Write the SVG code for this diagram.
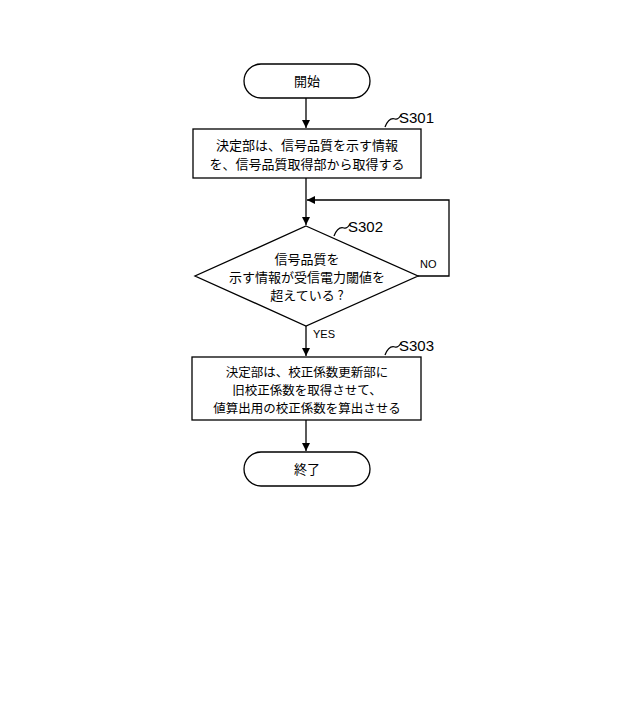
<svg xmlns="http://www.w3.org/2000/svg" width="640" height="722" viewBox="0 0 640 722">
<style>
.s{fill:#fff;stroke:#000;stroke-width:1.3}
.l{fill:none;stroke:#000;stroke-width:1.3}
text{font-family:"Noto Sans CJK JP","Liberation Sans",sans-serif;font-size:13px;text-anchor:middle;fill:#000}
.t{font-size:12.5px}
.lb{font-family:"Liberation Sans",sans-serif;font-size:15px;text-anchor:start}
.sm{font-family:"Liberation Sans",sans-serif;font-size:11px;text-anchor:start}
</style>
<defs><marker id="a" markerWidth="8" markerHeight="10" refX="8" refY="5" orient="auto" markerUnits="userSpaceOnUse"><path d="M0,1 L8,5 L0,9 z" fill="#000"/></marker></defs>
<rect width="640" height="722" fill="#fff"/>
<g id="connectors">
<line class="l" x1="306" y1="98" x2="306" y2="128" marker-end="url(#a)"/>
<line class="l" x1="306" y1="178" x2="306" y2="225" marker-end="url(#a)"/>
<polyline class="l" points="418,276 449,276 449,200 307,200" marker-end="url(#a)"/>
<line class="l" x1="306" y1="326" x2="306" y2="356" marker-end="url(#a)"/>
<line class="l" x1="306" y1="420" x2="306" y2="451" marker-end="url(#a)"/>
<path class="l" d="M385,127 q4,-10 10,-8 q3,1 6,-4"/>
<path class="l" d="M334,236 q4,-10 10,-8 q3,1 6,-4"/>
<path class="l" d="M385,355 q4,-10 10,-8 q3,1 6,-4"/>
<text class="sm" x="420" y="268">NO</text>
<text class="sm" x="313" y="338">YES</text>
</g>
<g id="start"><rect class="s" x="244" y="64" width="126" height="34" rx="17"/><text x="307" y="86">開始</text></g>
<g id="S301"><rect class="s" x="193" y="129" width="228" height="49"/><text x="307" y="150">決定部は、信号品質を示す情報</text><text x="307" y="169">を、信号品質取得部から取得する</text><text class="lb" x="399" y="123">S301</text></g>
<g id="S302"><polygon class="s" points="306,226 418,276 306,326 195,276"/><text x="307" y="264">信号品質を</text><text x="307" y="282">示す情報が受信電力閾値を</text><text x="307" y="300">超えている ?</text><text class="lb" x="348" y="232">S302</text></g>
<g id="S303"><rect class="s" x="192" y="357" width="229" height="63"/><text class="t" x="307" y="377">決定部は、校正係数更新部に</text><text class="t" x="307" y="395">旧校正係数を取得させて、</text><text class="t" x="307" y="413">値算出用の校正係数を算出させる</text><text class="lb" x="399" y="351">S303</text></g>
<g id="end"><rect class="s" x="244" y="452" width="126" height="34" rx="17"/><text x="307" y="474">終了</text></g>
</svg>
